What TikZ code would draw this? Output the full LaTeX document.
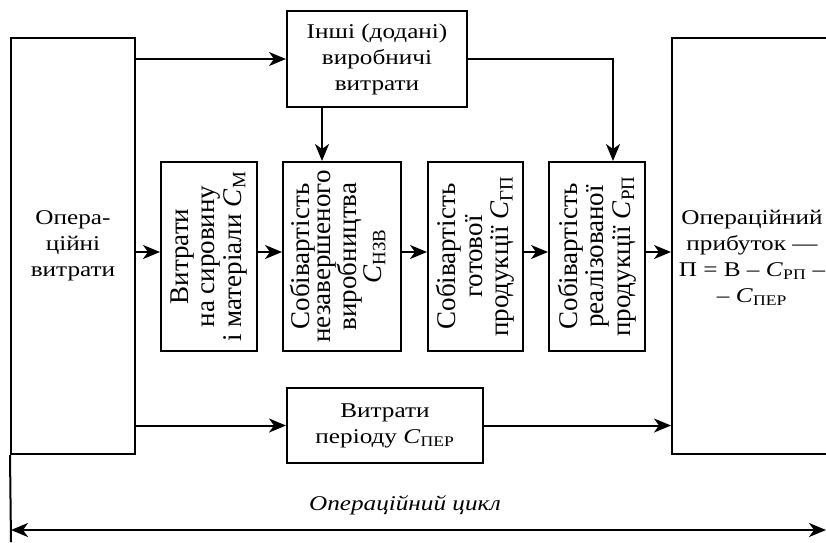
\documentclass[tikz,border=0pt]{standalone}
\usepackage{fontspec}
\setmainfont{Liberation Serif}
\newfontfamily\widefont[FakeStretch=1.2]{Liberation Serif}
\usetikzlibrary{arrows.meta}
\newcommand{\Csub}[1]{\textit{C}\kern0.3pt\textsubscript{#1}}
\tikzset{
  htext/.style={align=center, font=\widefont\fontsize{21}{26}\selectfont},
  blk/.style={draw, line width=2pt, inner sep=0pt, htext},
  vtext/.style={rotate=90, align=center, inner sep=0pt,
    font=\fontsize{27}{26.5}\selectfont},
  tip/.tip={Stealth[length=17pt, width=14pt, inset=5pt]},
  arr/.style={line width=2pt, -tip},
  arrr/.style={line width=2pt, tip-tip},
  plain/.style={line width=2pt}
}
\begin{document}
\begin{tikzpicture}[x=1pt,y=-1pt]
\useasboundingbox (0,0) rectangle (826,542);
\clip (0,0) rectangle (826,542);
% main boxes
\node[blk, minimum width=124pt, minimum height=416pt] (L) at (73,246) {Опера-\\ційні\\витрати};
\node[blk, minimum width=180pt, minimum height=96pt] (T) at (377,59) {Інші (додані)\\виробничі\\витрати};
\node[blk, minimum width=160pt, minimum height=416pt] (R) at (752,246) {};
\node[htext, inner sep=0pt] (Rt) at (752,258)
  {Операційний\\прибуток —\\П = В – \Csub{РП} –\\– \Csub{ПЕР}};
\node[blk, minimum width=196pt, minimum height=75pt] (P) at (385,425.5) {Витрати\\періоду \Csub{ПЕР}};
% vertical boxes
\node[blk, minimum width=96pt, minimum height=189pt] (B1) at (209,256.5) {};
\node[blk, minimum width=118pt, minimum height=189pt] (B2) at (342,256.5) {};
\node[blk, minimum width=95pt, minimum height=189pt] (B3) at (475.5,256.5) {};
\node[blk, minimum width=96pt, minimum height=189pt] (B4) at (597,256.5) {};
\node[vtext] (t1) at (B1) {Витрати\\на сировину\\і матеріали \Csub{М}};
\node[vtext, font=\fontsize{27}{21}\selectfont] (t2) at ([xshift=-4pt]B2.center) {Собівартість\\незавершеного\\виробництва\\\Csub{НЗВ}};
\node[vtext] (t3) at (B3) {Собівартість\\готової\\продукції \Csub{ГП}};
\node[vtext] (t4) at (B4) {Собівартість\\реалізованої\\продукції \Csub{РП}};
% helper coordinates
\coordinate (mid) at (0,252);
\coordinate (dl) at (11,530);
\coordinate (dr) at (826,530);
\coordinate (bot) at (11,542);
\node[inner sep=0pt, font=\widefont\itshape\fontsize{21}{26}\selectfont] (cyc) at (405,505) {Операційний цикл};
% connectors
\draw[arr] (L.east |- T.west) -- (T.west);
\draw[arr] (T.east) -| ([xshift=16pt]B4.north);
\draw[arr] ([xshift=-55pt]T.south) -- ([xshift=-55pt]T.south |- B2.north);
\draw[arr] (L.east |- mid) -- (B1.west |- mid);
\draw[arr] (B1.east |- mid) -- (B2.west |- mid);
\draw[arr] (B2.east |- mid) -- (B3.west |- mid);
\draw[arr] (B3.east |- mid) -- (B4.west |- mid);
\draw[arr] (B4.east |- mid) -- (R.west |- mid);
\draw[arr] (L.east |- P.west) -- (P.west);
\draw[arr] (P.east) -- (R.west |- P.east);
\draw[plain] (L.south west) -- (bot);
\draw[arrr] (dl) -- (dr);
\end{tikzpicture}
\end{document}
